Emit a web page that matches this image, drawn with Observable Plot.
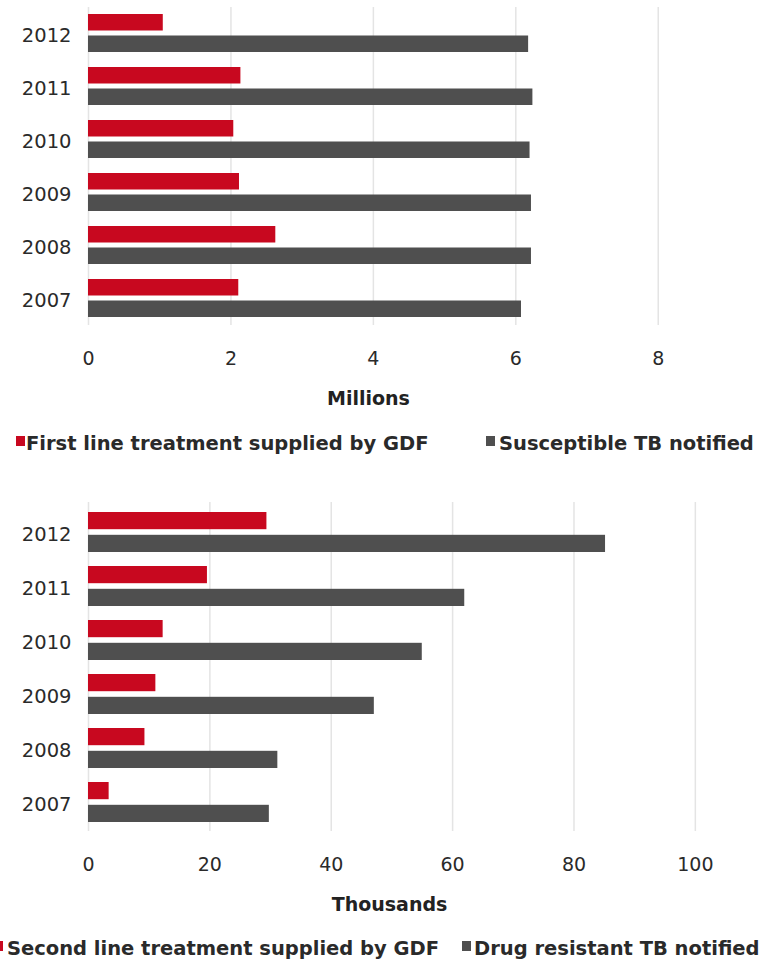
<!DOCTYPE html>
<html><head><meta charset="utf-8">
<script src="https://cdn.jsdelivr.net/npm/d3@7"></script>
<script src="https://cdn.jsdelivr.net/npm/@observablehq/plot@0.6"></script>
<style>
body{margin:0;background:#fff;overflow:hidden}
#wrap{position:relative;width:761px;height:965px;overflow:hidden;font-family:"DejaVu Sans",sans-serif;color:#2a2a2a;background:#fff}
.chart{position:absolute;left:0}
.chart svg{overflow:visible}
.legend{position:absolute;left:0;width:761px;height:24px;font-weight:bold;font-size:19.5px;line-height:20px;white-space:nowrap}
.sw{position:absolute;top:2px;width:9px;height:10px}
.tx{position:absolute;top:0}
</style></head>
<body><div id="wrap">
<div class="chart" id="c1" style="top:0"></div>
<div class="legend" id="l1" style="top:434px"></div>
<div class="chart" id="c2" style="top:465px"></div>
<div class="legend" id="l2" style="top:939px"></div>
</div>
<script>
const years = ["2012", "2011", "2010", "2009", "2008", "2007"];
// Top panel (millions)
const firstLine = [1.05, 2.14, 2.04, 2.12, 2.63, 2.11];
const susceptible = [6.18, 6.24, 6.20, 6.22, 6.22, 6.08];
const topTicks = [0, 2, 4, 6, 8];
const topSeries = ["First line treatment supplied by GDF", "Susceptible TB notified"];
// Bottom panel (thousands)
const secondLine = [29.4, 19.6, 12.3, 11.1, 9.3, 3.4];
const drugResistant = [85.2, 62.0, 55.0, 47.1, 31.2, 29.8];
const bottomTicks = [0, 20, 40, 60, 80, 100];
const bottomSeries = ["Second line treatment supplied by GDF", "Drug resistant TB notified"];

const RED = "#c8081f", GRAY = "#4f4f4f", GRID = "#e4e4e4";

function panel({a, b, ticks, xmax, label, height, marginTop, marginBottom, inset, tickPadding, labelDx, labelDy, padIn}) {
  const rows = years.map((y, i) => ({year: y, a: a[i], b: b[i]}));
  return Plot.plot({
    width: 761, height, marginLeft: 88, marginRight: 0, marginTop, marginBottom,
    style: {fontFamily: "DejaVu Sans", fontSize: "19px", color: "#2a2a2a", background: "transparent", overflow: "visible"},
    x: {domain: [0, xmax], ticks, tickSize: 0, tickPadding, label: null},
    y: {domain: years, paddingInner: padIn, paddingOuter: padIn / 2, label: null},
    marks: [
      Plot.ruleX(ticks, {stroke: GRID, strokeWidth: 1.5}),
      Plot.barX(rows, {x: "a", y: "year", fill: RED, insetBottom: inset}),
      Plot.barX(rows, {x: "b", y: "year", fill: GRAY, insetTop: inset}),
      Plot.axisY({tickSize: 0, tickPadding: 17, dy: 2, fontSize: 19.5, label: null}),
      Plot.text([label], {text: d => d, frameAnchor: "bottom", dx: labelDx, dy: labelDy, lineAnchor: "top",
        fontWeight: "bold", fontSize: 19, fill: "#222"})
    ]
  });
}

document.getElementById("c1").append(panel({
  a: firstLine, b: susceptible, ticks: topTicks, xmax: 9.45, label: "Millions",
  height: 415, marginTop: 7, marginBottom: 90, inset: 21.5, tickPadding: 26, labelDx: -56.5, labelDy: 66, padIn: 0.274
}));
document.getElementById("c2").append(panel({
  a: secondLine, b: drugResistant, ticks: bottomTicks, xmax: 110.9, label: "Thousands",
  height: 461, marginTop: 37, marginBottom: 95, inset: 22.8, tickPadding: 26, labelDx: -35.5, labelDy: 66, padIn: 0.266
}));

function legend(el, names, swLefts, txLefts) {
  const colors = [RED, GRAY];
  names.forEach((n, i) => {
    const sw = document.createElement("span");
    sw.className = "sw";
    sw.style.background = colors[i];
    sw.style.left = swLefts[i] + "px";
    const tx = document.createElement("span");
    tx.className = "tx";
    tx.style.left = txLefts[i] + "px";
    tx.textContent = n;
    el.append(sw, tx);
  });
}
legend(document.getElementById("l1"), topSeries, [16, 486], [26, 499]);
legend(document.getElementById("l2"), bottomSeries, [-6, 462], [7, 474]);
</script>
</body></html>
